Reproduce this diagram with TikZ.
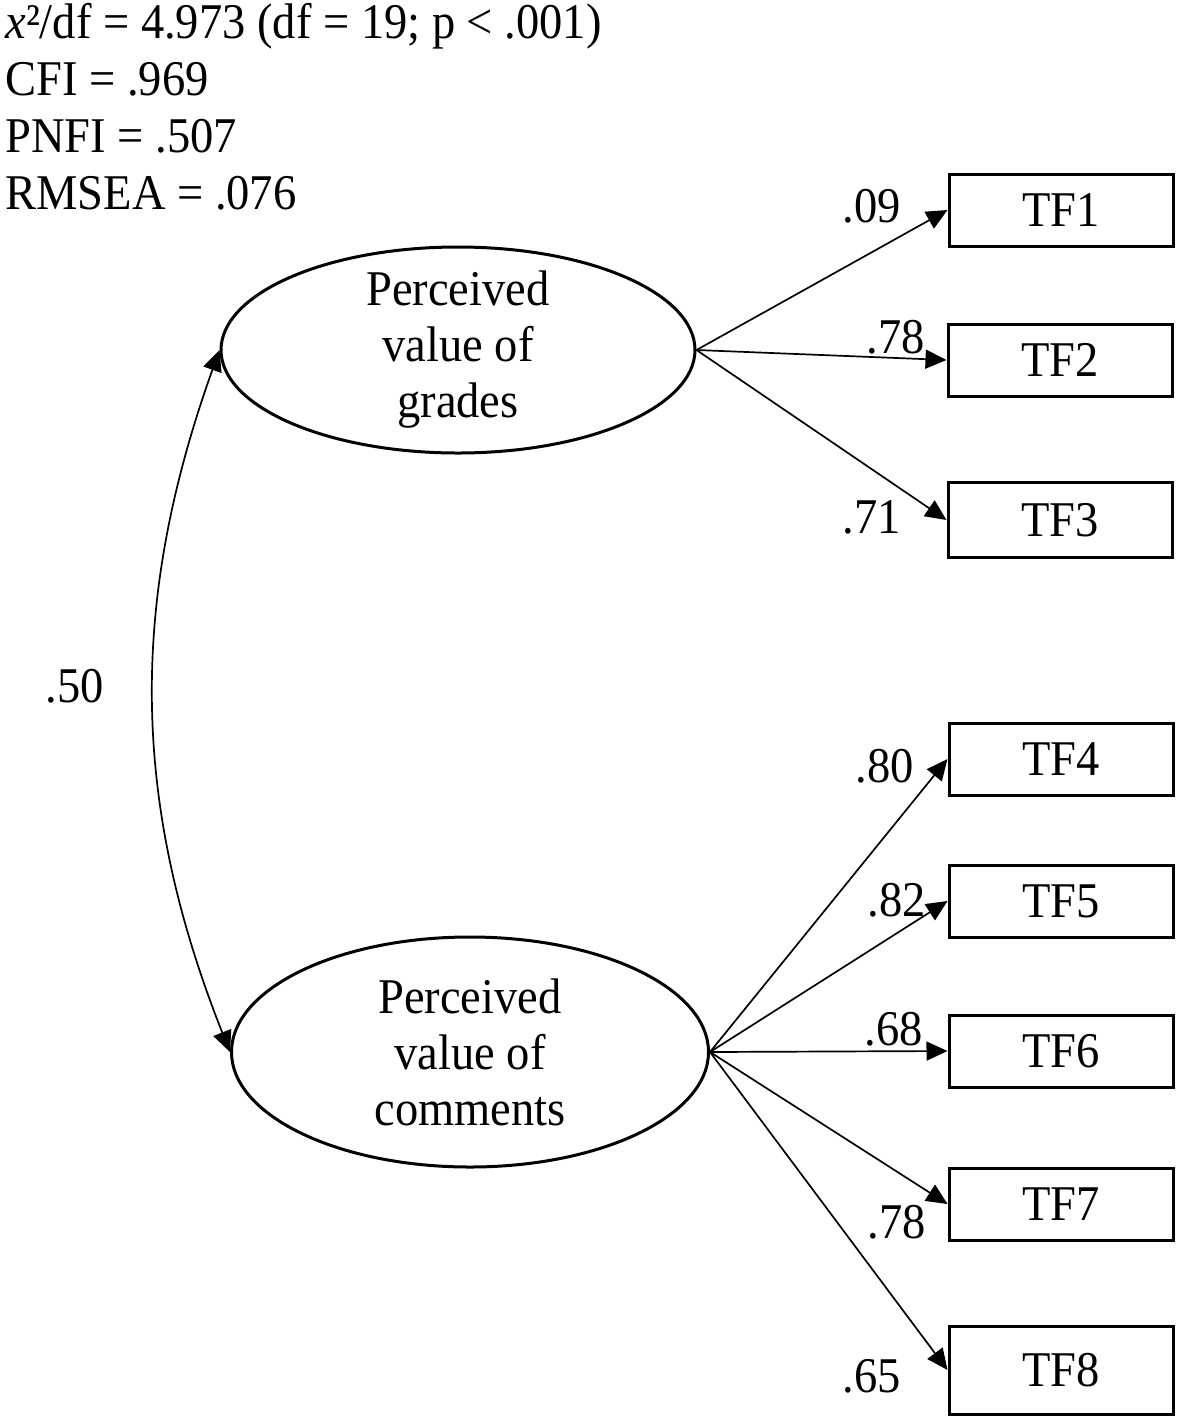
\documentclass[tikz,border=0pt]{standalone}
\usepackage{fontspec}
\setmainfont{Liberation Serif}[FakeStretch=0.93]
\usetikzlibrary{shapes.geometric,arrows.meta}
\begin{document}
\begin{tikzpicture}[x=0.5pt,y=-0.5pt,
  every node/.style={font=\fontsize{25}{28}\selectfont, inner sep=0pt},
  latent/.style={draw, ellipse, line width=1.5pt, minimum width=237pt, minimum height=103pt},
  latenttext/.style={align=center},
  obs/.style={draw, rectangle, line width=1.5pt, minimum width=112pt, minimum height=36pt},
  load/.style={line width=0.85pt, -{Triangle[length=10.5pt,width=9.5pt]}},
  cov/.style={line width=0.85pt, {Triangle[length=10.5pt,width=9.5pt]}-{Triangle[length=10.5pt,width=9.5pt]}},
  lbl/.style={anchor=base},
  stat/.style={anchor=base west}]
\useasboundingbox (0,0) rectangle (1180,1420);
\fill[white] (0,0) rectangle (1180,1420);

% fit statistics
\node[stat] (s1) at (5,38) {\textit{x}²/df = 4.973 (df = 19; p < .001)};
\node[stat] (s2) at (5,95) {CFI = .969};
\node[stat] (s3) at (5,152) {PNFI = .507};
\node[stat] (s4) at (5,209) {RMSEA = .076};

% latent variables
\node[latent] (g) at (458,350) {};
\node[latenttext] (gt) at (g) {Perceived\\value of\\grades};
\node[latent, minimum width=238.5pt, minimum height=115pt] (c) at (470,1052) {};
\node[latenttext] (ct) at (c) {Perceived\\value of\\comments};

% observed variables
\node[obs] (tf1) at (1061,210) {TF1};
\node[obs] (tf2) at (1060,360) {TF2};
\node[obs, minimum height=37.5pt] (tf3) at (1060,520) {TF3};
\node[obs] (tf4) at (1061,759) {TF4};
\node[obs] (tf5) at (1061,901) {TF5};
\node[obs] (tf6) at (1061,1051) {TF6};
\node[obs] (tf7) at (1061,1204) {TF7};
\node[obs, minimum height=44pt] (tf8) at (1061,1370) {TF8};

% loadings
\draw[load] (g.east) -- (tf1.west);
\draw[load] (g.east) -- (tf2.west);
\draw[load] (g.east) -- (tf3.west);
\draw[load] (c.east) -- (tf4.west);
\draw[load] (c.east) -- (tf5.west);
\draw[load] (c.east) -- (tf6.west);
\draw[load] (c.east) -- (tf7.west);
\draw[load] (c.east) -- (tf8.west);

% covariance
\draw[cov] (g.west) .. controls (130,600) and (130,800) .. (c.west);

% labels
\node[lbl] (l1) at (872,222) {.09};
\node[lbl] (l2) at (896,353) {.78};
\node[lbl] (l3) at (872,533) {.71};
\node[lbl] (l4) at (885,782) {.80};
\node[lbl] (l5) at (897,916) {.82};
\node[lbl] (l6) at (894,1045) {.68};
\node[lbl] (l7) at (897,1238) {.78};
\node[lbl] (l8) at (872,1392) {.65};
\node[lbl] (l9) at (75,702) {.50};
\end{tikzpicture}
\end{document}
